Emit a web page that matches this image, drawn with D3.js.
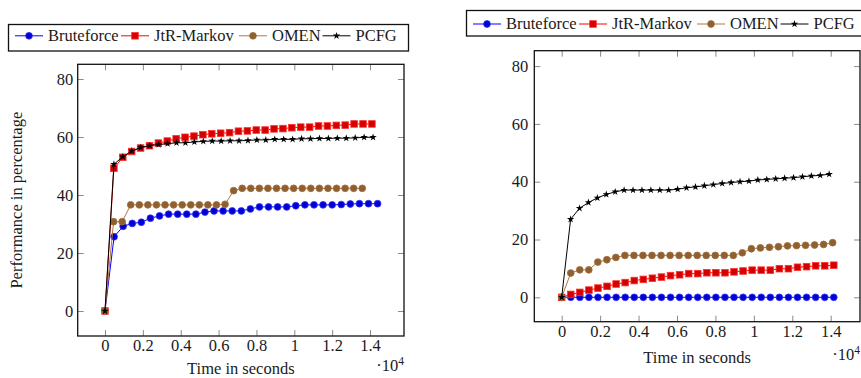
<!DOCTYPE html>
<html><head><meta charset="utf-8">
<script src="https://cdn.jsdelivr.net/npm/d3@7"></script>
<style>
body{margin:0;background:#fff}
svg text{font-family:"Liberation Serif","Times New Roman",serif;fill:#1a1a1a}
</style>
</head><body>
<svg id="c" width="861" height="378"></svg>
<script>
// ---------- data ----------
const seriesNames = ["Bruteforce", "JtR-Markov", "OMEN", "PCFG"];
const xTickValues = [0, 2000, 4000, 6000, 8000, 10000, 12000, 14000];
const xTickLabels = ["0", "0.2", "0.4", "0.6", "0.8", "1", "1.2", "1.4"];
const yTickValues = [0, 20, 40, 60, 80];
const yTickLabels = ["0", "20", "40", "60", "80"];
const xAxisLabel = "Time in seconds";
const yAxisLabel = "Performance in percentage";

// left chart: time (s) and performance (%)
const leftBruteforceTime = [0,480,960,1440,1920,2400,2880,3360,3840,4320,4800,5280,5760,6240,6720,7200,7680,8160,8640,9120,9600,10080,10560,11040,11520,12000,12480,12960,13440,13920,14400];
const leftBruteforce = [0,25.6,29.2,30.2,30.6,32.0,32.8,33.4,33.4,33.4,33.4,34.1,34.5,34.5,34.5,34.5,35.2,35.9,35.9,35.9,35.9,36.3,36.6,36.6,36.6,36.6,36.7,36.9,37.0,37.0,37.0];
const leftMarkovTime = [0,470,940,1410,1880,2350,2820,3290,3760,4230,4700,5170,5640,6110,6580,7050,7520,7990,8460,8930,9400,9870,10340,10810,11280,11750,12220,12690,13160,13630,14100];
const leftMarkov = [0,49.2,53.0,55.0,56.2,57.0,57.9,58.6,59.4,59.9,60.3,60.8,61.1,61.3,61.5,62.0,62.1,62.4,62.4,62.8,62.9,63.2,63.4,63.4,63.8,63.8,64.0,64.1,64.5,64.5,64.5];
const leftOmenTime = [0,453,906,1359,1812,2265,2718,3171,3624,4077,4530,4983,5436,5889,6342,6795,7248,7701,8154,8607,9060,9513,9966,10419,10872,11325,11778,12231,12684,13137,13590];
const leftOmen = [0,30.8,30.8,36.6,36.6,36.6,36.6,36.6,36.6,36.6,36.6,36.6,36.6,36.6,36.8,41.5,42.3,42.3,42.3,42.3,42.3,42.3,42.3,42.3,42.3,42.3,42.3,42.3,42.3,42.3,42.3];
const leftPcfgTime = [0,472,944,1416,1888,2360,2832,3304,3776,4248,4720,5192,5664,6136,6608,7080,7552,8024,8496,8968,9440,9912,10384,10856,11328,11800,12272,12744,13216,13688,14160];
const leftPcfg = [0,50.6,53.2,55.2,56.4,57.0,57.4,57.7,58.0,58.0,58.3,58.5,58.6,58.6,58.7,58.7,58.8,59.0,59.0,59.2,59.2,59.2,59.4,59.4,59.5,59.5,59.6,59.6,59.7,59.9,59.9];

// right chart
const rightBruteforceTime = [0,472,944,1416,1888,2360,2832,3304,3776,4248,4720,5192,5664,6136,6608,7080,7552,8024,8496,8968,9440,9912,10384,10856,11328,11800,12272,12744,13216,13688,14160];
const rightBruteforce = [0,0,0,0,0,0,0,0,0,0,0,0,0,0,0,0,0,0,0,0,0,0,0,0,0,0,0,0,0,0,0];
const rightMarkovTime = [0,472,944,1416,1888,2360,2832,3304,3776,4248,4720,5192,5664,6136,6608,7080,7552,8024,8496,8968,9440,9912,10384,10856,11328,11800,12272,12744,13216,13688,14160];
const rightMarkov = [0,1.0,1.7,2.5,3.2,3.8,4.6,5.1,5.8,6.2,6.6,7.0,7.5,7.8,8.2,8.2,8.5,8.5,8.5,8.8,9.1,9.4,9.4,9.4,9.9,9.9,10.4,10.6,10.9,10.9,11.1];
const rightOmenTime = [0,470,940,1410,1880,2350,2820,3290,3760,4230,4700,5170,5640,6110,6580,7050,7520,7990,8460,8930,9400,9870,10340,10810,11280,11750,12220,12690,13160,13630,14100];
const rightOmen = [0,8.4,9.5,9.5,12.2,13.0,13.8,14.5,14.5,14.5,14.5,14.5,14.5,14.5,14.5,14.5,14.5,14.5,14.5,14.5,15.4,16.8,17.1,17.3,17.5,17.8,17.9,18.0,18.1,18.3,18.9];
const rightPcfgTime = [0,464,928,1392,1856,2320,2784,3248,3712,4176,4640,5104,5568,6032,6496,6960,7424,7888,8352,8816,9280,9744,10208,10672,11136,11600,12064,12528,12992,13456,13920];
const rightPcfg = [0,27.0,30.8,32.8,34.4,35.6,36.5,37.1,37.1,37.1,37.1,37.1,37.1,37.4,37.9,38.2,38.6,39.0,39.4,39.7,40.0,40.2,40.6,40.8,41.0,41.2,41.4,41.7,42.0,42.2,42.6];

// ---------- styles ----------
const styles = [
  {line: "#0000ff", fill: "#0000d0", stroke: "#3333ff", mark: "circle"},
  {line: "#ff0000", fill: "#d40000", stroke: "#ff3030", mark: "square"},
  {line: "#b07840", fill: "#8f5f30", stroke: "#a06e3c", mark: "circle"},
  {line: "#000000", fill: "#000000", stroke: "#000000", mark: "star"}
];
const legendEntryOffsets = [6.5, 112.5, 230.5, 314];
const legendWidth = 400;
const FS = 16.5;

const svg = d3.select("#c");

function drawMarker(g, style, x, y) {
  if (style.mark === "circle") {
    g.append("circle").attr("cx", x).attr("cy", y).attr("r", 3.4)
      .attr("fill", style.fill).attr("stroke", style.stroke).attr("stroke-width", 0.8);
  } else if (style.mark === "square") {
    g.append("rect").attr("x", x - 3.3).attr("y", y - 3.3).attr("width", 6.6).attr("height", 6.6)
      .attr("fill", style.fill).attr("stroke", style.stroke).attr("stroke-width", 0.8);
  } else {
    g.append("path").attr("d", d3.symbol(d3.symbolStar, 17)())
      .attr("transform", `translate(${x},${y})`).attr("fill", style.fill);
  }
}

function drawChart(cfg) {
  const x = d3.scaleLinear().domain(cfg.xDomain).range([cfg.left, cfg.right]);
  const y = d3.scaleLinear().domain(cfg.yDomain).range([cfg.bottom, cfg.top]);
  const g = svg.append("g");

  const tickLen = 6;
  const axB = g.append("g").attr("transform", `translate(0,${cfg.bottom})`)
    .call(d3.axisBottom(x).tickValues(xTickValues).tickSize(-tickLen)
      .tickFormat((d, i) => xTickLabels[i]));
  const axT = g.append("g").attr("transform", `translate(0,${cfg.top})`)
    .call(d3.axisTop(x).tickValues(xTickValues).tickSize(-tickLen).tickFormat(""));
  const axL = g.append("g").attr("transform", `translate(${cfg.left},0)`)
    .call(d3.axisLeft(y).tickValues(yTickValues).tickSize(-tickLen)
      .tickFormat((d, i) => yTickLabels[i]));
  const axR = g.append("g").attr("transform", `translate(${cfg.right},0)`)
    .call(d3.axisRight(y).tickValues(yTickValues).tickSize(-tickLen).tickFormat(""));
  [axB, axT, axL, axR].forEach(a => {
    a.attr("font-family", null).attr("font-size", null);
    a.select(".domain").remove();
    a.selectAll(".tick line").attr("stroke", "#8a8a8a").attr("stroke-width", 1);
    a.selectAll(".tick text").attr("font-size", FS).attr("fill", "#1a1a1a");
  });
  axL.selectAll(".tick text").attr("x", cfg.yTickGap);
  axB.selectAll(".tick text").attr("y", cfg.xTickGap);

  cfg.series.forEach((s, si) => {
    const st = styles[si];
    const pts = s.t.map((t, i) => [x(t), y(s.v[i])]);
    g.append("path").attr("d", d3.line()(pts)).attr("fill", "none")
      .attr("stroke", st.line).attr("stroke-width", 1);
    const mg = g.append("g");
    pts.forEach(p => drawMarker(mg, st, p[0], p[1]));
  });

  g.append("rect").attr("x", cfg.left).attr("y", cfg.top)
    .attr("width", cfg.right - cfg.left).attr("height", cfg.bottom - cfg.top)
    .attr("fill", "none").attr("stroke", "#111").attr("stroke-width", 1.3);

  g.append("text").attr("x", (cfg.left + cfg.right) / 2).attr("y", cfg.xLabelY)
    .attr("text-anchor", "middle").attr("font-size", FS).text(xAxisLabel);
  const sc = g.append("text").attr("x", cfg.right).attr("y", cfg.xLabelY - 3)
    .attr("text-anchor", "end").attr("font-size", FS);
  sc.append("tspan").text("·10");
  sc.append("tspan").attr("font-size", FS * 0.7).attr("dy", -6).text("4");
  if (cfg.yLabel) {
    g.append("text").attr("transform", `translate(${cfg.yLabelX},${(cfg.top + cfg.bottom) / 2}) rotate(-90)`)
      .attr("text-anchor", "middle").attr("font-size", FS).text(yAxisLabel);
  }

  const lg = svg.append("g");
  const lb = cfg.legend;
  lg.append("rect").attr("x", lb.left).attr("y", lb.top)
    .attr("width", legendWidth).attr("height", lb.bottom - lb.top)
    .attr("fill", "#fff").attr("stroke", "#111").attr("stroke-width", 1.3);
  seriesNames.forEach((name, i) => {
    const st = styles[i];
    const cx = lb.left + legendEntryOffsets[i];
    lg.append("line").attr("x1", cx).attr("x2", cx + 28).attr("y1", lb.markY).attr("y2", lb.markY)
      .attr("stroke", st.line).attr("stroke-width", 1);
    drawMarker(lg, st, cx + 14, lb.markY);
    lg.append("text").attr("x", cx + 33).attr("y", lb.markY + 5.3)
      .attr("font-size", FS).text(name);
  });
}

drawChart({
  left: 77.7, right: 404, top: 64.3, bottom: 336,
  xDomain: [-1442, 15795], yDomain: [-8.62, 85.07],
  xTickGap: 3.5, yTickGap: -4.5,
  xLabelY: 374, yLabel: true, yLabelX: 22,
  legend: {left: 8.5, top: 24.5, bottom: 51, markY: 35.8},
  series: [
    {t: leftBruteforceTime, v: leftBruteforce},
    {t: leftMarkovTime, v: leftMarkov},
    {t: leftOmenTime, v: leftOmen},
    {t: leftPcfgTime, v: leftPcfg}
  ]
});
drawChart({
  left: 534.3, right: 860, top: 50.7, bottom: 321.7,
  xDomain: [-1426, 15524], yDomain: [-8.44, 85.33],
  xTickGap: 4, yTickGap: -6,
  xLabelY: 363, yLabel: false,
  legend: {left: 466.5, top: 10.5, bottom: 36, markY: 24},
  series: [
    {t: rightBruteforceTime, v: rightBruteforce},
    {t: rightMarkovTime, v: rightMarkov},
    {t: rightOmenTime, v: rightOmen},
    {t: rightPcfgTime, v: rightPcfg}
  ]
});
</script>
</body></html>
